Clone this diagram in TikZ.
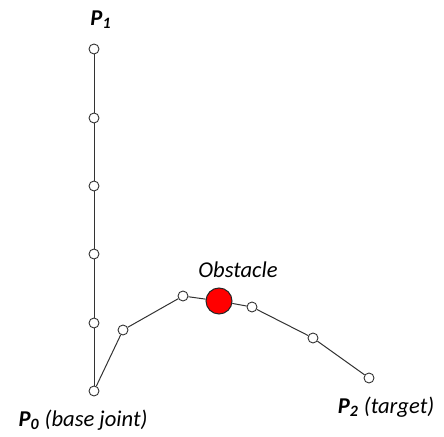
\documentclass[tikz,border=0pt]{standalone}
\usepackage{fontspec}
\setmainfont{Carlito}
\usetikzlibrary{positioning}

\begin{document}
\begin{tikzpicture}[
    x=0.5pt,y=-0.5pt,
    joint/.style={draw=black!80,circle,fill=white,inner sep=0pt,minimum size=5pt,line width=0.45pt},
    obst/.style={draw=black!85,circle,fill=red,inner sep=0pt,minimum size=13pt,line width=0.5pt},
    link/.style={line width=0.5pt,draw=black!80},
    lbl/.style={font=\fontsize{11.3}{13}\selectfont\itshape,inner sep=0pt}
  ]
    \useasboundingbox (0,0) rectangle (444,437);
    % straight arm, P0 up to P1
    \node[joint] (p0) at (94,391) {};
    \node[joint] (a1) at (94,323) {};
    \node[joint] (a2) at (94,254) {};
    \node[joint] (a3) at (94,186) {};
    \node[joint] (a4) at (94,118) {};
    \node[joint] (p1) at (94,49) {};
    % bent arm round the obstacle, P0 to P2
    \node[joint] (b1) at (123,330) {};
    \node[joint] (b2) at (183,296) {};
    \node[obst] (obs) at (219,301) {};
    \node[joint] (b3) at (252,307) {};
    \node[joint] (b4) at (313,338) {};
    \node[joint] (p2) at (369,378) {};
    \draw[link] (p0)--(a1);
    \draw[link] (a1)--(a2);
    \draw[link] (a2)--(a3);
    \draw[link] (a3)--(a4);
    \draw[link] (a4)--(p1);
    \draw[link] (p0)--(b1);
    \draw[link] (b1)--(b2);
    \draw[link] (b2)--(obs);
    \draw[link] (obs)--(b3);
    \draw[link] (b3)--(b4);
    \draw[link] (b4)--(p2);
    % labels
    \node[lbl] (p1lbl) at (101,20) {\textbf{P\textsubscript{1}}};
    \node[lbl] (obslbl) at (238,270) {Obstacle};
    \node[lbl] (p0lbl) at (83,420) {\textbf{P\textsubscript{0}} (base joint)};
    \node[lbl] (p2lbl) at (386,407) {\textbf{P\textsubscript{2}} (target)};
  \end{tikzpicture}
\end{document}
